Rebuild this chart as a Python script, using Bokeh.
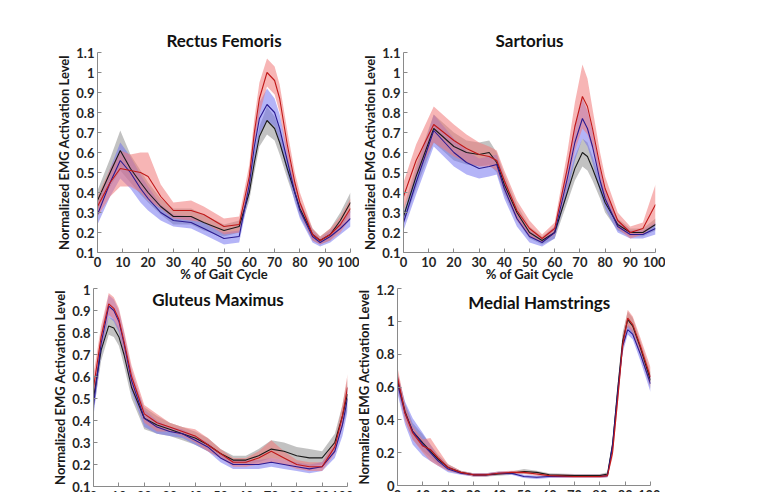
import numpy as np
from bokeh.plotting import figure
from bokeh.layouts import column, row
from bokeh.models import Range1d, FixedTicker, CustomJSTickFormatter, Label
from bokeh.embed import file_html
from bokeh.resources import INLINE

# ---------------- data ----------------
# Rectus Femoris
rf_x = [0, 5, 9, 13, 17, 20, 25, 30, 37, 42, 50, 56, 60, 62, 64, 67, 70, 72, 75, 78, 80, 85, 88, 92, 96, 100]
rf_black = [0.36, 0.50, 0.61, 0.52, 0.45, 0.40, 0.33, 0.28, 0.28, 0.25, 0.21, 0.23, 0.40, 0.55, 0.68, 0.76, 0.72, 0.65, 0.52, 0.40, 0.32, 0.19, 0.16, 0.19, 0.26, 0.35]
rf_black_sd = [0.05, 0.07, 0.10, 0.07, 0.06, 0.05, 0.04, 0.04, 0.04, 0.04, 0.03, 0.03, 0.04, 0.05, 0.05, 0.07, 0.06, 0.06, 0.05, 0.04, 0.04, 0.03, 0.02, 0.03, 0.04, 0.05]
rf_red = [0.33, 0.45, 0.52, 0.51, 0.50, 0.48, 0.38, 0.31, 0.31, 0.29, 0.23, 0.24, 0.48, 0.70, 0.87, 1.00, 0.96, 0.87, 0.64, 0.45, 0.35, 0.19, 0.16, 0.19, 0.24, 0.32]
rf_red_sd = [0.05, 0.07, 0.09, 0.08, 0.10, 0.12, 0.06, 0.04, 0.05, 0.04, 0.04, 0.04, 0.06, 0.07, 0.08, 0.07, 0.07, 0.07, 0.07, 0.05, 0.05, 0.03, 0.02, 0.03, 0.04, 0.05]
rf_blue = [0.29, 0.45, 0.56, 0.50, 0.42, 0.37, 0.30, 0.26, 0.25, 0.22, 0.17, 0.18, 0.44, 0.63, 0.77, 0.84, 0.80, 0.72, 0.56, 0.40, 0.31, 0.18, 0.15, 0.18, 0.22, 0.27]
rf_blue_sd = [0.05, 0.07, 0.09, 0.08, 0.07, 0.06, 0.04, 0.03, 0.03, 0.03, 0.03, 0.03, 0.05, 0.07, 0.08, 0.08, 0.07, 0.07, 0.06, 0.05, 0.04, 0.03, 0.02, 0.03, 0.03, 0.04]

# Sartorius
sa_x = [0, 5, 12, 20, 25, 30, 34, 37, 40, 45, 50, 55, 60, 65, 68, 71, 73, 75, 78, 80, 85, 90, 95, 100]
sa_black = [0.28, 0.48, 0.72, 0.63, 0.60, 0.59, 0.60, 0.55, 0.44, 0.30, 0.20, 0.16, 0.20, 0.40, 0.52, 0.60, 0.58, 0.52, 0.42, 0.35, 0.24, 0.20, 0.20, 0.24]
sa_black_sd = [0.04, 0.06, 0.07, 0.07, 0.06, 0.06, 0.06, 0.05, 0.05, 0.04, 0.03, 0.02, 0.03, 0.05, 0.06, 0.07, 0.07, 0.06, 0.05, 0.05, 0.03, 0.02, 0.02, 0.03]
sa_red = [0.38, 0.56, 0.74, 0.66, 0.62, 0.59, 0.58, 0.56, 0.46, 0.31, 0.22, 0.17, 0.22, 0.52, 0.73, 0.88, 0.83, 0.72, 0.53, 0.42, 0.26, 0.20, 0.22, 0.34]
sa_red_sd = [0.07, 0.08, 0.09, 0.08, 0.07, 0.06, 0.05, 0.05, 0.05, 0.05, 0.04, 0.02, 0.03, 0.08, 0.12, 0.16, 0.14, 0.10, 0.07, 0.06, 0.04, 0.03, 0.03, 0.10]
sa_blue = [0.25, 0.45, 0.71, 0.60, 0.55, 0.52, 0.53, 0.54, 0.42, 0.27, 0.18, 0.15, 0.20, 0.47, 0.65, 0.77, 0.72, 0.63, 0.46, 0.37, 0.23, 0.19, 0.19, 0.22]
sa_blue_sd = [0.04, 0.06, 0.08, 0.07, 0.06, 0.05, 0.05, 0.05, 0.05, 0.04, 0.03, 0.02, 0.03, 0.07, 0.09, 0.10, 0.09, 0.08, 0.06, 0.05, 0.03, 0.02, 0.02, 0.03]

# Gluteus Maximus
gm_x = [0, 3, 6, 8, 10, 12, 15, 20, 25, 30, 35, 40, 45, 50, 55, 60, 65, 70, 75, 80, 85, 90, 95, 98, 100]
gm_black = [0.50, 0.72, 0.83, 0.82, 0.78, 0.70, 0.55, 0.41, 0.38, 0.36, 0.34, 0.32, 0.29, 0.25, 0.22, 0.22, 0.24, 0.27, 0.26, 0.24, 0.23, 0.23, 0.30, 0.42, 0.52]
gm_black_sd = [0.06, 0.05, 0.04, 0.04, 0.04, 0.05, 0.05, 0.05, 0.04, 0.03, 0.03, 0.03, 0.03, 0.02, 0.02, 0.02, 0.03, 0.04, 0.04, 0.04, 0.04, 0.03, 0.04, 0.05, 0.07]
gm_red = [0.55, 0.78, 0.93, 0.91, 0.86, 0.76, 0.60, 0.43, 0.39, 0.37, 0.35, 0.33, 0.29, 0.25, 0.21, 0.21, 0.23, 0.26, 0.23, 0.20, 0.19, 0.19, 0.28, 0.42, 0.55]
gm_red_sd = [0.06, 0.05, 0.05, 0.05, 0.05, 0.05, 0.05, 0.04, 0.04, 0.02, 0.02, 0.03, 0.03, 0.02, 0.02, 0.02, 0.03, 0.05, 0.03, 0.02, 0.02, 0.02, 0.03, 0.05, 0.06]
gm_blue = [0.47, 0.75, 0.92, 0.90, 0.85, 0.75, 0.58, 0.41, 0.37, 0.35, 0.34, 0.31, 0.28, 0.23, 0.20, 0.20, 0.20, 0.21, 0.20, 0.19, 0.18, 0.19, 0.26, 0.38, 0.50]
gm_blue_sd = [0.05, 0.05, 0.05, 0.05, 0.05, 0.05, 0.05, 0.04, 0.03, 0.02, 0.02, 0.02, 0.02, 0.02, 0.02, 0.02, 0.02, 0.02, 0.02, 0.02, 0.02, 0.02, 0.03, 0.05, 0.06]

# Medial Hamstrings
mh_x = [0, 3, 6, 10, 13, 16, 20, 25, 30, 35, 40, 45, 50, 55, 60, 70, 80, 83, 85, 87, 89, 91, 93, 96, 100]
mh_black = [0.64, 0.45, 0.33, 0.26, 0.21, 0.16, 0.11, 0.08, 0.065, 0.065, 0.07, 0.075, 0.085, 0.08, 0.065, 0.06, 0.06, 0.07, 0.25, 0.58, 0.88, 1.01, 0.97, 0.84, 0.64]
mh_black_sd = [0.05, 0.05, 0.05, 0.05, 0.04, 0.03, 0.02, 0.01, 0.01, 0.01, 0.01, 0.01, 0.015, 0.01, 0.01, 0.01, 0.01, 0.01, 0.03, 0.04, 0.05, 0.05, 0.05, 0.04, 0.05]
mh_red = [0.66, 0.44, 0.32, 0.24, 0.22, 0.17, 0.11, 0.08, 0.065, 0.065, 0.075, 0.08, 0.08, 0.07, 0.06, 0.055, 0.055, 0.06, 0.20, 0.52, 0.86, 1.02, 0.98, 0.85, 0.66]
mh_red_sd = [0.06, 0.05, 0.04, 0.04, 0.07, 0.05, 0.02, 0.01, 0.01, 0.01, 0.01, 0.01, 0.01, 0.01, 0.01, 0.01, 0.01, 0.01, 0.03, 0.04, 0.05, 0.05, 0.05, 0.05, 0.06]
mh_blue = [0.62, 0.44, 0.33, 0.25, 0.20, 0.15, 0.10, 0.075, 0.065, 0.065, 0.075, 0.075, 0.055, 0.05, 0.055, 0.055, 0.055, 0.06, 0.24, 0.56, 0.85, 0.95, 0.92, 0.80, 0.62]
mh_blue_sd = [0.06, 0.07, 0.08, 0.07, 0.05, 0.03, 0.02, 0.01, 0.01, 0.01, 0.01, 0.01, 0.01, 0.01, 0.01, 0.01, 0.01, 0.01, 0.03, 0.04, 0.04, 0.03, 0.03, 0.04, 0.05]

x_ticks = [0, 10, 20, 30, 40, 50, 60, 70, 80, 90, 100]
y_ticks_top = [0.1, 0.2, 0.3, 0.4, 0.5, 0.6, 0.7, 0.8, 0.9, 1.0, 1.1]
y_ticks_gm = [0.1, 0.2, 0.3, 0.4, 0.5, 0.6, 0.7, 0.8, 0.9, 1.0]
y_ticks_mh = [0.0, 0.2, 0.4, 0.6, 0.8, 1.0, 1.2]

titles = ["Rectus Femoris", "Sartorius", "Gluteus Maximus", "Medial Hamstrings"]
x_label = "% of Gait Cycle"
y_label = "Normalized EMG Activation Level"

# ---------------- styling ----------------
FONT = "Lato"
BAND = {"black": ("#9a9a9a", 0.6), "red": ("#f07878", 0.55), "blue": ("#6a6af0", 0.5)}
LINE = {"black": "#1a1a1a", "red": "#c01818", "blue": "#2a1a90"}

fmt = CustomJSTickFormatter(code="return String(Math.round(tick*10)/10);")


def panel(x, groups, yr, yticks, title, left, right, top, fw, fh, inner_title=None):
    p = figure(frame_width=fw, frame_height=fh, output_backend="svg", toolbar_location=None,
               x_range=Range1d(0, 100), y_range=Range1d(*yr),
               min_border_left=left, min_border_right=right, min_border_top=top,
               min_border_bottom=0)
    p.outline_line_color = None
    p.grid.visible = False
    p.background_fill_color = "white"
    p.border_fill_color = "white"
    xa = np.array(x, dtype=float)
    for key in ["black", "blue", "red"]:
        m, sd = groups[key]
        m = np.array(m); sd = np.array(sd)
        c, a = BAND[key]
        p.varea(x=xa, y1=m - sd, y2=m + sd, fill_color=c, fill_alpha=a)
    for key in ["black", "blue", "red"]:
        m, sd = groups[key]
        p.line(x=xa, y=m, line_color=LINE[key], line_width=1.1)
    for ax in (p.xaxis[0], p.yaxis[0]):
        ax.axis_line_color = "#8a8a8a"
        ax.major_tick_line_color = "#8a8a8a"
        ax.major_tick_in = 4
        ax.major_tick_out = 0
        ax.minor_tick_line_color = None
        ax.major_label_text_font = FONT
        ax.major_label_text_font_style = "bold"
        ax.major_label_text_font_size = "13px"
        ax.major_label_text_color = "#262626"
        ax.axis_label_text_font = FONT
        ax.axis_label_text_font_style = "bold"
        ax.axis_label_text_color = "#1a1a1a"
        ax.axis_label_text_font_size = "13px"
        ax.formatter = fmt
    p.xaxis[0].ticker = FixedTicker(ticks=x_ticks)
    p.yaxis[0].ticker = FixedTicker(ticks=yticks)
    p.xaxis[0].axis_label = x_label
    p.xaxis[0].major_label_standoff = 4
    p.xaxis[0].axis_label_standoff = -4
    p.yaxis[0].axis_label = y_label
    p.yaxis[0].major_label_standoff = 3
    p.yaxis[0].axis_label_standoff = 1
    if inner_title is None:
        p.title.text = title
        p.title.align = "center"
        p.title.text_font = FONT
        p.title.text_font_style = "bold"
        p.title.text_font_size = "17px"
        p.title.text_color = "#111111"
        p.title.standoff = 4
    else:
        p.title.visible = False
        tx, ty = inner_title
        p.add_layout(Label(x=tx, y=ty, text=title, text_align="center", text_baseline="middle",
                           text_font=FONT, text_font_style="bold", text_font_size="17px",
                           text_color="#111111"))
    return p


f1 = panel(rf_x, {"black": (rf_black, rf_black_sd), "red": (rf_red, rf_red_sd), "blue": (rf_blue, rf_blue_sd)},
           (0.1, 1.1), y_ticks_top, titles[0], 97, 9, 52, 253, 200)
f2 = panel(sa_x, {"black": (sa_black, sa_black_sd), "red": (sa_red, sa_red_sd), "blue": (sa_blue, sa_blue_sd)},
           (0.1, 1.1), y_ticks_top, titles[1], 36, 10, 52, 252, 200)
f3 = panel(gm_x, {"black": (gm_black, gm_black_sd), "red": (gm_red, gm_red_sd), "blue": (gm_blue, gm_blue_sd)},
           (0.1, 1.0), y_ticks_gm, titles[2], 93, 6, 4, 254, 198, inner_title=(49, 0.95))
f4 = panel(mh_x, {"black": (mh_black, mh_black_sd), "red": (mh_red, mh_red_sd), "blue": (mh_blue, mh_blue_sd)},
           (0.0, 1.2), y_ticks_mh, titles[3], 36, 10, 4, 253, 197, inner_title=(56, 1.115))

layout = column(row(f1, f2), row(f3, f4), width=777, height=492, sizing_mode="fixed",
                styles={"overflow": "hidden"})

open("out.html", "w").write(file_html(layout, INLINE))
